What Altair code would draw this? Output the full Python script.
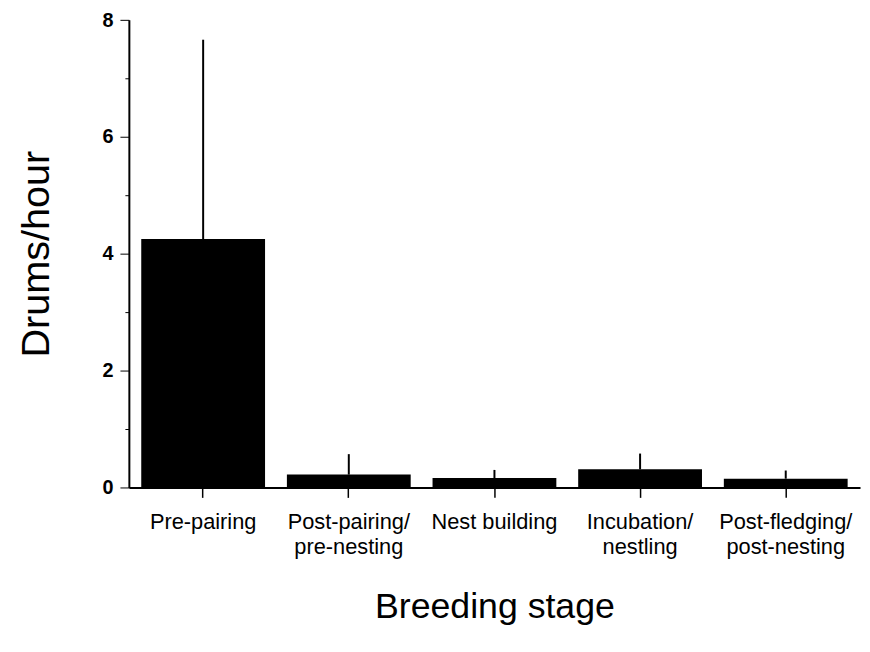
import altair as alt
import pandas as pd

stages = ["Pre-pairing", "Post-pairing/pre-nesting", "Nest building",
          "Incubation/nestling", "Post-fledging/post-nesting"]
means = [4.25, 0.22, 0.16, 0.31, 0.15]
upper = [7.66, 0.57, 0.30, 0.58, 0.29]
y_ticks = [v / 2 for v in range(0, 17)]

df = pd.DataFrame({"stage": stages, "mean": means, "upper": upper})

FONT = "Liberation Sans"

x_enc = alt.X(
    "stage:N", sort=stages,
    scale=alt.Scale(paddingInner=0.15, paddingOuter=0.085),
    axis=alt.Axis(
        title="Breeding stage", titleFontSize=36, titleFontWeight="normal",
        titleFont=FONT, titlePadding=32, titleColor="black",
        labelFont=FONT, labelFontSize=22, labelColor="black", labelAngle=0,
        labelPadding=14, labelLineHeight=26,
        labelExpr="indexof(datum.label,'/')>=0 ? [slice(datum.label,0,indexof(datum.label,'/')+1), slice(datum.label,indexof(datum.label,'/')+1)] : datum.label",
        tickSize=10, tickColor="black", tickWidth=1.5,
        domainColor="black", domainWidth=2,
    ),
)

y_scale = alt.Scale(domain=[0, 8], nice=False)

bars = alt.Chart(df).mark_bar(color="black").encode(
    x=x_enc,
    y=alt.Y(
        "mean:Q", scale=y_scale,
        axis=alt.Axis(
            title="Drums/hour", titleFontSize=40, titleFontWeight="normal",
            titleFont=FONT, titlePadding=46, titleColor="black",
            values=y_ticks,
            labelExpr="datum.value % 2 == 0 ? format(datum.value, 'd') : ''",
            labelFont=FONT, labelFontSize=20, labelFontWeight="bold",
            labelColor="black", labelPadding=7,
            labelOffset={"condition": {"test": "datum.value == 8", "value": 1}, "value": 0},
            tickSize={"condition": {"test": "datum.value % 2 == 0", "value": 9}, "value": 4},
            tickColor="black", tickWidth=1,
            domainColor="black", domainWidth=2, grid=False,
        ),
    ),
)

errs = alt.Chart(df).mark_rule(color="black", strokeWidth=2).encode(
    x=alt.X("stage:N", sort=stages),
    y=alt.Y("mean:Q", scale=y_scale),
    y2="upper:Q",
)

chart = (bars + errs).properties(
    width=738, height=472,
    autosize=alt.AutoSizeParams(type="none"),
    padding={"left": 122, "top": 9, "right": 2, "bottom": 150},
    background="white",
).configure_view(stroke=None)

chart.save("out.html", embed_options={"renderer": "svg", "actions": False})
